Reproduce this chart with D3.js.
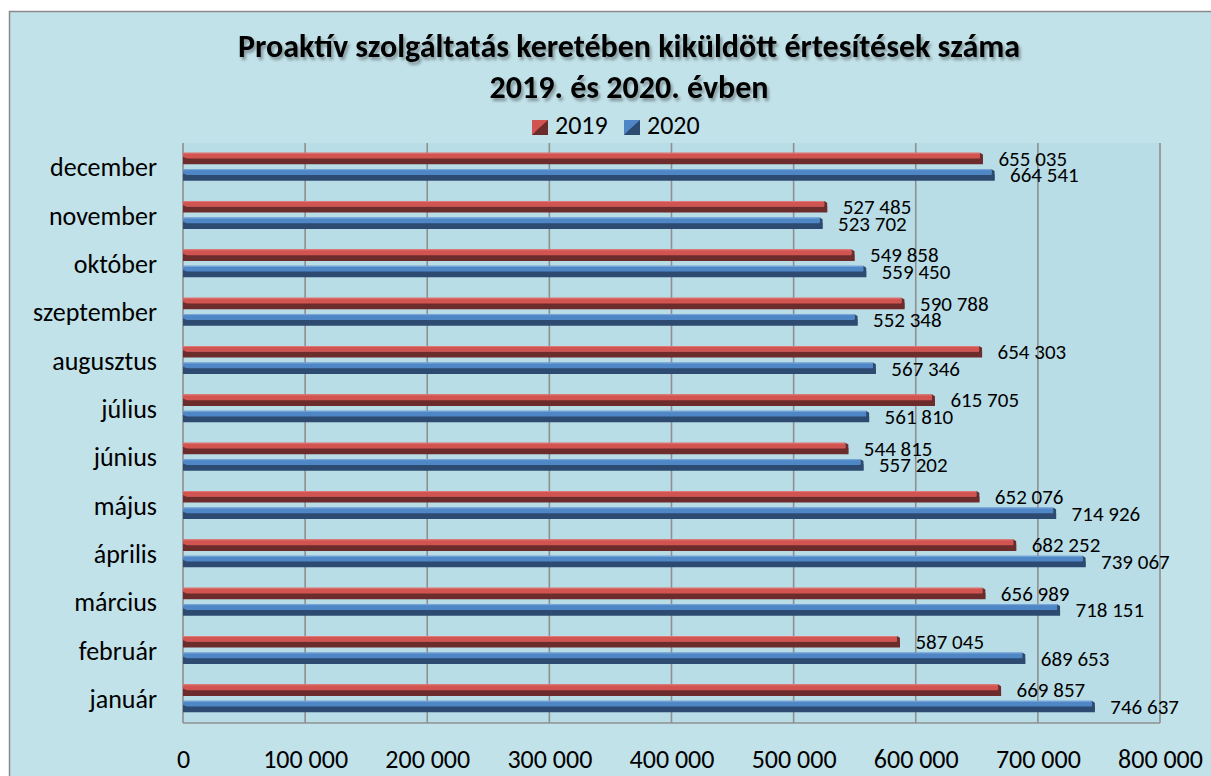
<!DOCTYPE html>
<html><head><meta charset="utf-8">
<script src="https://cdn.jsdelivr.net/npm/d3@7"></script>
<style>
html,body{margin:0;padding:0;background:#fff;}
svg{display:block;}
text{font-family:Carlito,Lato,"Open Sans",sans-serif;fill:#000;}
</style></head><body>
<svg id="chart" width="1211" height="776"></svg>
<script>
const months = ["január","február","március","április","május","június","július","augusztus","szeptember","október","november","december"];
const series = ["2019","2020"];
const values2019 = [669857,587045,656989,682252,652076,544815,615705,654303,590788,549858,527485,655035];
const values2020 = [746637,689653,718151,739067,714926,557202,561810,567346,552348,559450,523702,664541];
const xTicks = [0,100000,200000,300000,400000,500000,600000,700000,800000];
const titleLines = ["Proaktív szolgáltatás keretében kiküldött értesítések száma","2019. és 2020. évben"];

const colors = {
  "2019": {light:"#d15451", dark:"#6c2c2c", edge:"#e07a77"},
  "2020": {light:"#4f86c6", dark:"#2d4a70", edge:"#7aa6da"}
};

const svg = d3.select("#chart");
const W = 1211, H = 776;
const plot = {left:183, right:1160, top:143, bottom:723};

svg.append("rect").attr("x",0).attr("y",0).attr("width",W).attr("height",H).attr("fill","#ffffff");
svg.append("rect").attr("x",9.5).attr("y",11.5).attr("width",1260).attr("height",800)
  .attr("fill","#c2e2e9").attr("stroke","#8a8a8a").attr("stroke-width",1.5);

const defs = svg.append("defs");
const f = defs.append("filter").attr("id","shadow").attr("x","-5%").attr("y","-30%").attr("width","110%").attr("height","160%");
f.append("feDropShadow").attr("dx",2).attr("dy",3).attr("stdDeviation",1.8).attr("flood-color","#000").attr("flood-opacity",0.35);

svg.append("rect").attr("x",plot.left).attr("y",plot.top).attr("width",plot.right-plot.left).attr("height",plot.bottom-plot.top)
  .attr("fill","#b8dde6");

const x = d3.scaleLinear().domain([0,800000]).range([plot.left, plot.right]);
const y = d3.scaleBand().domain(months.slice().reverse()).range([plot.top, plot.bottom]).paddingInner(0).paddingOuter(0);
const ySub = d3.scaleBand().domain(series).range([9.7, 37.7]).paddingInner(0.3);

svg.append("g").selectAll("line").data(xTicks).join("line")
  .attr("x1",d=>x(d)).attr("x2",d=>x(d)).attr("y1",plot.top).attr("y2",plot.bottom)
  .attr("stroke","#8f8f8f").attr("stroke-width",1.6);
svg.append("line").attr("x1",plot.left).attr("x2",plot.right).attr("y1",plot.bottom).attr("y2",plot.bottom)
  .attr("stroke","#8f8f8f").attr("stroke-width",1.6);

const fmt = v => d3.format(",")(v).replace(/,/g," ");
const xAxis = d3.axisBottom(x).tickValues(xTicks).tickSize(0).tickPadding(0).tickFormat(fmt);
const gx = svg.append("g").attr("transform",`translate(0,0)`).call(xAxis);
gx.select(".domain").remove();
gx.selectAll("text").attr("font-size",26).attr("fill","#000").attr("font-family","Carlito,Lato,sans-serif")
  .attr("y",768).attr("dy",null);

const yAxis = d3.axisLeft(y).tickSize(0).tickPadding(0);
const gy = svg.append("g").attr("transform",`translate(157,0)`).call(yAxis);
gy.select(".domain").remove();
gy.selectAll("text").attr("font-size",26).attr("fill","#000").attr("font-family","Carlito,Lato,sans-serif").attr("dy","0.35em");

const rows = [];
months.forEach((m,i)=>{
  rows.push({month:m, s:"2019", v:values2019[i]});
  rows.push({month:m, s:"2020", v:values2020[i]});
});

const bars = svg.append("g").selectAll("g").data(rows).join("g")
  .attr("transform",d=>`translate(0,${y(d.month)+ySub(d.s)})`);
const bh = ySub.bandwidth();
const dep = 3;
bars.append("path").attr("fill",d=>colors[d.s].dark)
  .attr("d",d=>{const x0=x(0), x1=x(d.v); return `M${x0},${bh*0.45} L${x1},${bh*0.45} L${x1},${bh} L${x0},${bh} Z`;});
bars.append("path").attr("fill",d=>colors[d.s].light)
  .attr("d",d=>{const x0=x(0), x1=x(d.v); return `M${x0},0 L${x1-dep},0 L${x1-dep},${bh*0.5} L${x0},${bh*0.5} Z`;});
bars.append("line").attr("stroke",d=>colors[d.s].edge).attr("stroke-width",1)
  .attr("x1",x(0)).attr("x2",d=>x(d.v)-dep).attr("y1",0.5).attr("y2",0.5);
bars.append("path").attr("fill",d=>colors[d.s].dark)
  .attr("d",d=>{const x1=x(d.v); return `M${x1-dep},0 L${x1},${dep*0.6} L${x1},${bh} L${x1-dep},${bh*0.5} Z`;});
bars.append("path").attr("fill",d=>colors[d.s].dark).attr("opacity",0.9)
  .attr("d",d=>{const x0=x(0); return `M${x0},${bh*0.35} L${x0+6},${bh*0.6} L${x0},${bh*0.85} Z`;});

svg.append("g").selectAll("text").data(rows).join("text")
  .attr("x",d=>x(d.v)+15.5)
  .attr("y",d=>y(d.month)+ySub(d.s)+bh/2)
  .attr("dy","0.35em")
  .attr("font-size",21)
  .text(d=>fmt(d.v));

const title = svg.append("g").attr("filter","url(#shadow)");
title.selectAll("text").data(titleLines).join("text")
  .attr("x",629).attr("y",(d,i)=>i===0?57:98)
  .attr("text-anchor","middle").attr("font-size",32).attr("font-weight","bold")
  .text(d=>d);

const legend = svg.append("g");
const legItems = [{s:"2019", x:532, tx:555},{s:"2020", x:624, tx:647}];
legItems.forEach(it=>{
  const g = legend.append("g").attr("transform",`translate(${it.x},120)`);
  g.append("rect").attr("width",16).attr("height",15).attr("fill",colors[it.s].dark);
  g.append("path").attr("d","M0,0 L16,0 L0,15 Z").attr("fill",colors[it.s].light);
  g.append("path").attr("d","M3,12 L13,3 L13,12 Z").attr("fill",colors[it.s].dark);
  legend.append("text").attr("x",it.tx).attr("y",134).attr("font-size",26).text(it.s);
});
</script>
</body></html>
